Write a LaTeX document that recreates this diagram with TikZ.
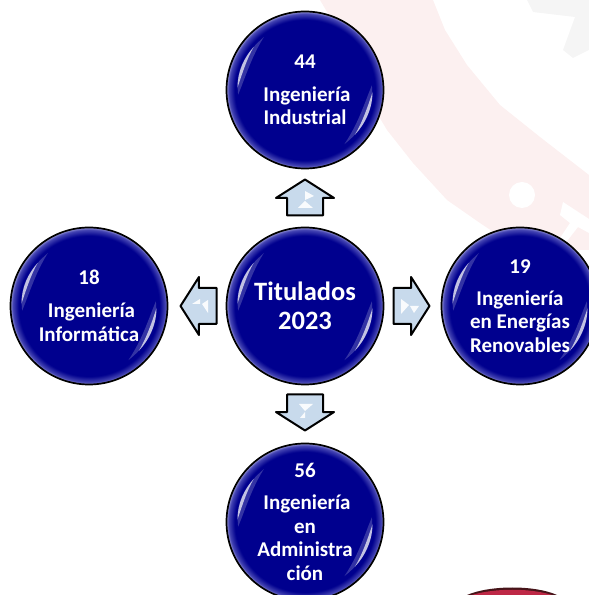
\documentclass[tikz,border=0pt]{standalone}
\usepackage{fontspec}
\setmainfont{Carlito}
\usetikzlibrary{shapes.arrows,calc}
\definecolor{nb}{RGB}{0,0,142}
\definecolor{rimA}{RGB}{70,70,180}
\definecolor{rimB}{RGB}{150,150,215}
\definecolor{arrowfill}{RGB}{200,218,236}
\definecolor{bandpink}{RGB}{252,240,240}
\definecolor{blobgray}{RGB}{245,245,245}
\definecolor{sealred}{RGB}{190,40,70}
\definecolor{sealdark}{RGB}{70,20,25}
\pgfdeclareradialshading{bubble}{\pgfpoint{0bp}{0bp}}{color(0bp)=(nb); color(22.4bp)=(nb); color(24.3bp)=(rimA); color(25bp)=(rimB); color(50bp)=(rimB)}
\tikzset{
  bub/.style={circle,draw=black,line width=1.7pt,minimum size=157pt,inner sep=0pt,outer sep=0pt,
    shading=bubble,text=white,align=center,
    font=\bfseries\fontsize{21}{23.5}\selectfont},
  blockarrow/.style={single arrow,draw=black,line width=2pt,fill=arrowfill,line join=round,
    minimum height=36pt,minimum width=56pt,inner xsep=0pt,inner ysep=17pt,outer sep=0pt,
    single arrow head extend=11pt,single arrow tip angle=115,anchor=tail},
  glint/.style={fill=white,opacity=.9},
}
\newcommand{\glare}[1]{%
  \begin{scope}[shift={(#1.center)}]
    \fill[white,opacity=.2] (184:67) .. controls (165:72) and (150:71) .. (128:67) .. controls (148:63) and (168:61) .. cycle;
    \fill[white,opacity=.7] (178:67.5) .. controls (165:70) and (152:69) .. (140:67) .. controls (152:66) and (166:65) .. cycle;
    \fill[white,opacity=.2] (4:67) .. controls (-15:72) and (-32:71) .. (-54:67) .. controls (-32:63) and (-12:61) .. cycle;
    \fill[white,opacity=.7] (-2:67.5) .. controls (-15:70) and (-30:69) .. (-42:67) .. controls (-30:66) and (-14:65) .. cycle;
  \end{scope}}
\begin{document}
\begin{tikzpicture}[x=1pt,y=1pt]
\useasboundingbox (0,0) rectangle (589,595);
\clip (0,0) rectangle (589,595);
% faded watermark behind the diagram
\fill[bandpink] (320,595) -- (330,578) -- (360,510) -- (387,465) -- (413,432) -- (447,395) -- (480,372) -- (520,345) -- (589,345) -- (589,420) -- (540,458) -- (500,490) -- (467,530) -- (445,565) -- (433,595) -- cycle;
\fill[blobgray] (527,595) -- (533,583) -- (575,578) -- (563,545) -- (573,537) -- (589,545) -- (589,595) -- cycle;
\fill[white] (522,400) circle[radius=13];
\fill[white] (563,393) -- (589,376) -- (589,362) -- (578,368) -- (560,345) -- (552,345) -- (570,372) -- (560,380) -- cycle;
\fill[sealdark] (467,0) .. controls (490,10) and (535,10) .. (557,0) -- cycle;
\fill[sealred] (472,0) .. controls (495,7) and (530,7) .. (552,0) -- cycle;
% circles
\node[bub,font=\bfseries\fontsize{26.5}{29}\selectfont] (c) at (305,289) {Titulados\\2023};
\node[bub] (t) at (305,505) {44\\[9.5pt]\hspace*{4pt}Ingeniería\\Industrial};
\node[bub] (l) at (89,289) {18\\[9.5pt]\hspace*{5pt}Ingeniería\\Informática};
\node[bub] (r) at (520,289) {19\\[8.5pt]Ingeniería\\en Energías\\Renovables};
\node[bub] (b) at (305,73) {56\\[8.5pt]\hspace*{4pt}Ingeniería\\en\\Administra\\ción};
\glare{c}\glare{t}\glare{l}\glare{r}\glare{b}
% arrows
\node[blockarrow,rotate=90] (au) at ($(c.north)+(0,12)$) {};
\node[blockarrow,rotate=180] (al) at ($(c.west)+(-10,0)$) {};
\node[blockarrow] (ar) at ($(c.east)+(10,0)$) {};
\node[blockarrow,rotate=-90] (ad) at ($(c.south)+(0,-10)$) {};
% glints on the arrows
\fill[glint] (305,404) -- (305,395) -- (314,399) -- cycle;
\fill[glint] (298,387) -- (305,394) -- (313,387) -- cycle;
\fill[glint] (192,291) -- (200,296) -- (200,291) -- cycle;
\fill[glint] (202,291) -- (208,295) -- (208,282) -- cycle;
\fill[glint] (401,296) -- (401,281) -- (409,290) -- cycle;
\fill[glint] (410,289) -- (419,289) -- (414,282) -- cycle;
\fill[glint] (299,191) -- (313,191) -- (305,184) -- cycle;
\fill[glint] (300,177) -- (305,183) -- (305,177) -- cycle;
\end{tikzpicture}
\end{document}
